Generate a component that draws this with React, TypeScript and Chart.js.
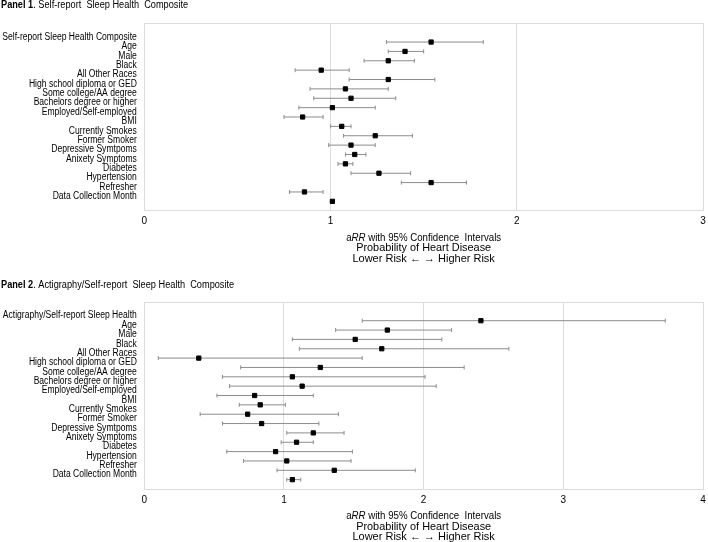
import React, { useEffect, useRef } from "react";
import { Chart, registerables } from "chart.js";

Chart.register(...registerables);

const FONT = "'Liberation Sans', Arial, sans-serif";

const labels1 = [
  "Self-report Sleep Health Composite",
  "Age",
  "Male",
  "Black",
  "All Other Races",
  "High school diploma or GED",
  "Some college/AA degree",
  "Bachelors degree or higher",
  "Employed/Self-employed",
  "BMI",
  "Currently Smokes",
  "Former Smoker",
  "Depressive Symtpoms",
  "Anixety Symptoms",
  "Diabetes",
  "Hypertension",
  "Refresher",
  "Data Collection Month",
];
const est1 = [1.54, 1.40, 1.31, 0.95, 1.31, 1.08, 1.11, 1.01, 0.85, 1.06, 1.24, 1.11, 1.13, 1.08, 1.26, 1.54, 0.86, 1.01];
const lo1 = [1.30, 1.31, 1.18, 0.81, 1.10, 0.89, 0.91, 0.83, 0.75, 1.00, 1.07, 0.99, 1.08, 1.04, 1.11, 1.38, 0.78, 1.00];
const hi1 = [1.82, 1.50, 1.45, 1.10, 1.56, 1.31, 1.35, 1.24, 0.96, 1.11, 1.44, 1.24, 1.19, 1.12, 1.43, 1.73, 0.96, 1.02];

const labels2 = [
  "Actigraphy/Self-report Sleep Health",
  "Age",
  "Male",
  "Black",
  "All Other Races",
  "High school diploma or GED",
  "Some college/AA degree",
  "Bachelors degree or higher",
  "Employed/Self-employed",
  "BMI",
  "Currently Smokes",
  "Former Smoker",
  "Depressive Symtpoms",
  "Anixety Symptoms",
  "Diabetes",
  "Hypertension",
  "Refresher",
  "Data Collection Month",
];
const est2 = [2.41, 1.74, 1.51, 1.70, 0.39, 1.26, 1.06, 1.13, 0.79, 0.83, 0.74, 0.84, 1.21, 1.09, 0.94, 1.02, 1.36, 1.06];
const lo2 = [1.56, 1.37, 1.06, 1.11, 0.10, 0.69, 0.56, 0.61, 0.52, 0.68, 0.40, 0.56, 1.02, 0.98, 0.59, 0.71, 0.95, 1.02];
const hi2 = [3.73, 2.20, 2.13, 2.61, 1.56, 2.29, 2.01, 2.09, 1.21, 1.01, 1.39, 1.25, 1.43, 1.21, 1.49, 1.48, 1.94, 1.12];

const panelTitle1Bold = "Panel 1";
const panelTitle1Rest = ". Self-report  Sleep Health  Composite";
const panelTitle2Bold = "Panel 2";
const panelTitle2Rest = ". Actigraphy/Self-report  Sleep Health  Composite";
const xMax1 = 3;
const xMax2 = 4;
const axisLine1a = "a";
const axisLine1b = "RR";
const axisLine1c = " with 95% Confidence  Intervals";
const axisLine2 = "Probability of Heart Disease";
const axisLine3 = "Lower Risk \u2190 \u2192 Higher Risk";

type PanelProps = {
  width: number;
  height: number;
  plotTop: number;
  plotBottom: number;
  titleY: number;
  titleBold: string;
  titleRest: string;
  labels: string[];
  est: number[];
  lo: number[];
  hi: number[];
  xMax: number;
};

function drawScaled(ctx: CanvasRenderingContext2D, text: string, x: number, y: number, sx: number, align: CanvasTextAlign) {
  ctx.save();
  ctx.translate(x, y);
  ctx.scale(sx, 1);
  ctx.textAlign = align;
  ctx.fillText(text, 0, 0);
  ctx.restore();
}

function Panel(p: PanelProps) {
  const ref = useRef<HTMLCanvasElement | null>(null);
  useEffect(() => {
    const canvas = ref.current;
    if (!canvas) return;
    const decor = {
      id: "decor",
      beforeDatasetsDraw(chart: any) {
        const ctx = chart.ctx;
        const a = chart.chartArea;
        ctx.save();
        ctx.strokeStyle = "#dcdcdc";
        ctx.lineWidth = 1;
        ctx.strokeRect(Math.round(a.left) + 0.5, Math.round(a.top) + 0.5, Math.round(a.right - a.left), Math.round(a.bottom - a.top));
        ctx.restore();
      },
      afterDraw(chart: any) {
        const ctx: CanvasRenderingContext2D = chart.ctx;
        const a = chart.chartArea;
        const yScale = chart.scales.y;
        ctx.save();
        ctx.fillStyle = "#000";
        ctx.textBaseline = "middle";

        // y category labels (offset half a row above the marks, as in the source)
        ctx.font = "10px " + FONT;
        const lsx = 0.855;
        p.labels.forEach((lab, i) => {
          const y = yScale.getPixelForValue(i - 0.53);
          drawScaled(ctx, lab, a.left - 7.5, y, lsx, "right");
        });

        // panel title
        const tsx = 0.92;
        ctx.font = "bold 10px " + FONT;
        drawScaled(ctx, p.titleBold, 1, p.titleY, tsx, "left");
        const wb = ctx.measureText(p.titleBold).width * tsx;
        ctx.font = "10px " + FONT;
        drawScaled(ctx, p.titleRest, 1 + wb, p.titleY, tsx, "left");

        // axis title
        const cx = (a.left + a.right) / 2;
        const asx = 0.88;
        ctx.font = "11px " + FONT;
        const w1 = ctx.measureText(axisLine1a).width * asx;
        const w3 = ctx.measureText(axisLine1c).width * asx;
        ctx.font = "italic 11px " + FONT;
        const w2 = ctx.measureText(axisLine1b).width * asx;
        let x = cx - (w1 + w2 + w3) / 2;
        const y1 = a.bottom + 27;
        ctx.font = "11px " + FONT;
        drawScaled(ctx, axisLine1a, x, y1, asx, "left");
        x += w1;
        ctx.font = "italic 11px " + FONT;
        drawScaled(ctx, axisLine1b, x, y1, asx, "left");
        x += w2;
        ctx.font = "11px " + FONT;
        drawScaled(ctx, axisLine1c, x, y1, asx, "left");
        drawScaled(ctx, axisLine2, cx, a.bottom + 37.5, 0.99, "center");
        drawScaled(ctx, axisLine3, cx, a.bottom + 48, 1, "center");
        ctx.restore();
      },
    };

    const datasets: any[] = [
      {
        label: "aRR",
        data: p.est.map((v, i) => ({ x: v, y: i })),
        pointStyle: "rect",
        pointRadius: 3,
        backgroundColor: "#000",
        borderColor: "#000",
        borderWidth: 1,
        showLine: false,
        order: 0,
      },
    ];
    p.lo.forEach((l, i) => {
      datasets.push({
        label: "ci" + i,
        data: [
          { x: l, y: i },
          { x: p.hi[i], y: i },
        ],
        showLine: true,
        borderColor: "#8c8c8c",
        borderWidth: 1,
        pointStyle: "line",
        rotation: 90,
        pointRadius: 2,
        pointBorderColor: "#8c8c8c",
        pointBorderWidth: 1,
        order: 1,
      });
    });

    const chart = new Chart(canvas, {
      type: "scatter",
      data: { datasets },
      plugins: [decor],
      options: {
        responsive: false,
        animation: false,
        devicePixelRatio: 1,
        layout: { padding: { top: p.plotTop, right: p.width - 704.3, left: 0, bottom: 0 } },
        plugins: { legend: { display: false }, tooltip: { enabled: false } },
        scales: {
          x: {
            type: "linear",
            min: 0,
            max: p.xMax,
            ticks: { stepSize: 1, padding: 5, color: "#000", font: { family: FONT, size: 10 } },
            grid: { color: "#dcdcdc", drawTicks: false },
            border: { display: false },
            afterFit: (axis: any) => {
              axis.height = p.height - p.plotBottom;
              axis.paddingLeft = 0;
              axis.paddingRight = 0;
            },
          },
          y: {
            type: "linear",
            min: -2,
            max: 18,
            reverse: true,
            grid: { display: false, drawTicks: false },
            border: { display: false },
            ticks: { display: false },
            afterFit: (axis: any) => {
              axis.width = 144.3;
            },
          },
        },
      } as any,
    });
    return () => chart.destroy();
  }, []);
  return (
    <canvas
      ref={ref}
      width={p.width}
      height={p.height}
      style={{ display: "block", width: p.width, height: p.height }}
    />
  );
}

export default function App() {
  return (
    <div style={{ position: "absolute", left: 0, top: 0, width: 708, height: 542, background: "#fff" }}>
      <Panel
        width={708}
        height={270}
        plotTop={23.3}
        plotBottom={210.7}
        titleY={5.5}
        titleBold={panelTitle1Bold}
        titleRest={panelTitle1Rest}
        labels={labels1}
        est={est1}
        lo={lo1}
        hi={hi1}
        xMax={xMax1}
      />
      <Panel
        width={708}
        height={272}
        plotTop={32}
        plotBottom={219}
        titleY={15}
        titleBold={panelTitle2Bold}
        titleRest={panelTitle2Rest}
        labels={labels2}
        est={est2}
        lo={lo2}
        hi={hi2}
        xMax={xMax2}
      />
    </div>
  );
}
